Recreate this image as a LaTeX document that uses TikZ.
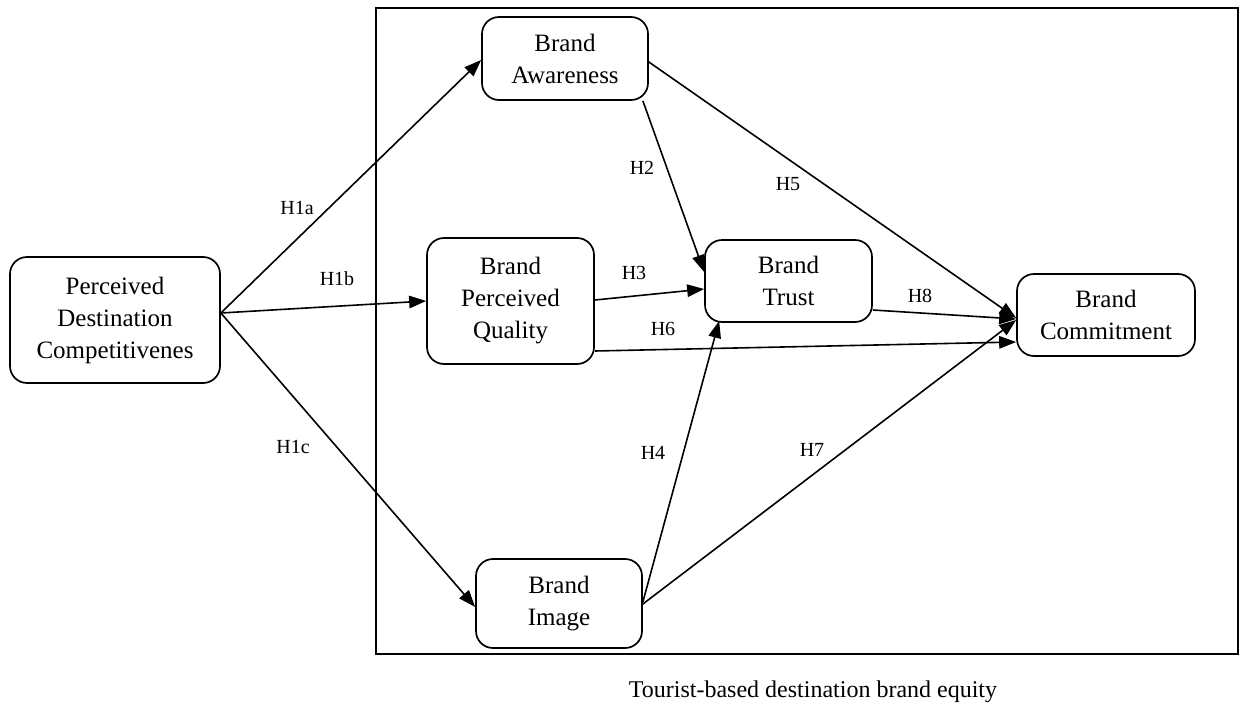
\documentclass[tikz,border=0pt]{standalone}
\usepackage{fontspec}
\setmainfont{LiberationSerif}[Extension=.ttf, UprightFont=*-Regular, BoldFont=*-Bold, ItalicFont=*-Italic, BoldItalicFont=*-BoldItalic]
\usetikzlibrary{arrows.meta}
\begin{document}
\begin{tikzpicture}[x=1pt,y=-1pt,
  construct/.style={draw, rounded corners=17pt, line width=1.7pt, align=center,
    inner sep=0pt, font=\rmfamily\fontsize{25}{32}\selectfont},
  link/.style={line width=1.6pt, -{Triangle[length=17pt,width=12.5pt]}},
  hyp/.style={inner sep=0pt, font=\rmfamily\fontsize{20}{24}\selectfont},
  frame/.style={draw, line width=1.8pt}]
\useasboundingbox (0,0) rectangle (1241,709);

% outer frame grouping the brand equity constructs
\node[frame, minimum width=862pt, minimum height=646pt, inner sep=0pt] (eq) at (807,331) {};

% constructs
\node[construct, minimum width=210pt, minimum height=126pt] (pdc) at (115,320) {Perceived\\Destination\\Competitivenes};
\node[construct, minimum width=166pt, minimum height=83pt] (ba) at (565,58.5) {Brand\\Awareness};
\node[construct, minimum width=167pt, minimum height=126pt] (bpq) at (510.5,301) {Brand\\Perceived\\Quality};
\node[construct, minimum width=167pt, minimum height=82pt] (bt) at (788.5,281) {Brand\\Trust};
\node[construct, minimum width=178pt, minimum height=82pt] (bc) at (1106,315) {Brand\\Commitment};
\node[construct, minimum width=166pt, minimum height=89pt] (bi) at (559,603.5) {Brand\\Image};

% hypothesised paths
\draw[link] ([yshift=7pt]pdc.east) -- ([yshift=-1.5pt]ba.west);
\draw[link] ([yshift=7pt]pdc.east) -- (bpq.west);
\draw[link] ([yshift=7pt]pdc.east) -- ([yshift=-3.5pt]bi.west);
\draw[link] ([xshift=-6pt]ba.south east) -- ([yshift=9pt]bt.west);
\draw[link] ([yshift=-3.5pt]ba.east) -- ([yshift=-3pt]bc.west);
\draw[link] ([yshift=1pt]bpq.east) -- ([yshift=-8pt]bt.west);
\draw[link] ([yshift=-50pt]bpq.east) -- ([yshift=-27pt]bc.west);
\draw[link] ([yshift=-29pt]bt.east) -- ([yshift=-4pt]bc.west);
\draw[link] ([yshift=1.5pt]bi.east) -- ([xshift=15pt,yshift=2pt]bt.south west);
\draw[link] ([yshift=-0.5pt]bi.east) -- ([yshift=-5pt]bc.west);

% hypothesis labels
\node[hyp] (h1a) at (297,208) {H1a};
\node[hyp] (h1b) at (337,279) {H1b};
\node[hyp] (h1c) at (293,447) {H1c};
\node[hyp] (h2) at (642,168) {H2};
\node[hyp] (h3) at (634,273) {H3};
\node[hyp] (h4) at (653,453) {H4};
\node[hyp] (h5) at (788,184) {H5};
\node[hyp] (h6) at (663,329) {H6};
\node[hyp] (h7) at (812,450) {H7};
\node[hyp] (h8) at (920,296) {H8};

% caption
\node[inner sep=0pt, font=\rmfamily\fontsize{24}{28}\selectfont] (cap) at (813,692) {Tourist-based destination brand equity};
\end{tikzpicture}
\end{document}
